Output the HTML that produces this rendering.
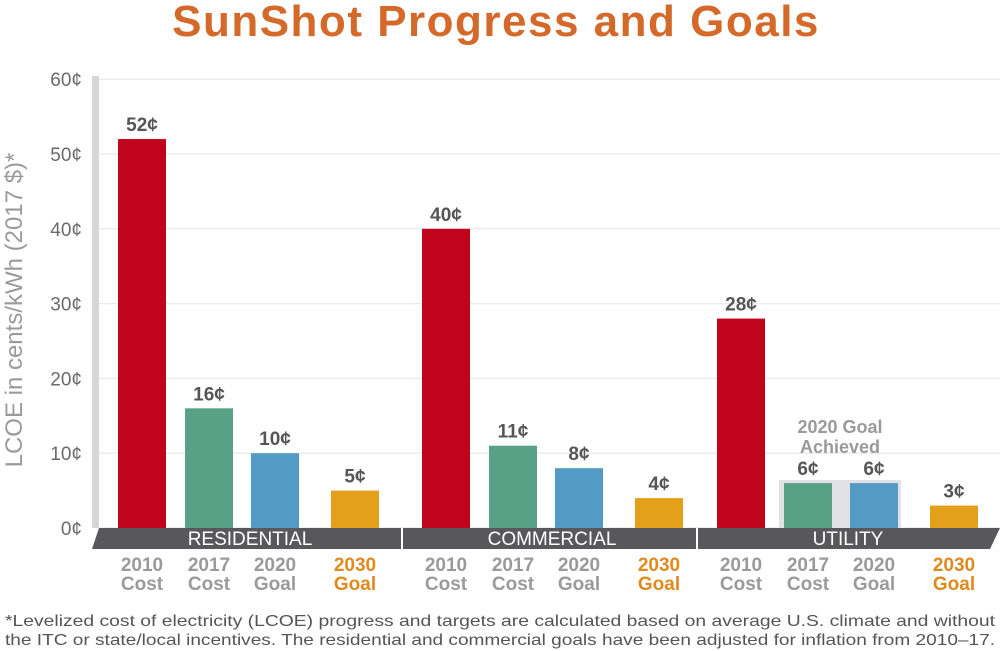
<!DOCTYPE html>
<html><head><meta charset="utf-8"><style>
body{margin:0;background:#fff;}
svg{display:block;font-family:"Liberation Sans",sans-serif;}
</style></head><body>
<svg id="chart" width="1000" height="651" viewBox="0 0 1000 651">
<text x="496" y="36" text-anchor="middle" font-size="44" font-weight="bold" letter-spacing="1.5" fill="#d4692a">SunShot Progress and Goals</text>
<text transform="translate(22,310) rotate(-90)" text-anchor="middle" font-size="24" fill="#9a9a9a">LCOE in cents/kWh (2017 $)*</text>
<rect x="92" y="76" width="7" height="452" fill="#d6d6d8"/>
<g id="grid"></g>
<rect x="779" y="480" width="122" height="48" fill="#e2e2e4"/>
<text x="840" y="433" text-anchor="middle" font-size="18" font-weight="bold" fill="#9a9a9a"><tspan x="840">2020 Goal</tspan><tspan x="840" dy="20">Achieved</tspan></text>
<g id="bars"></g>
<polygon points="99,528 1000,528 990,549 92,549" fill="#58585a"/>
<line x1="402" y1="528" x2="402" y2="549" stroke="#fff" stroke-width="2"/>
<line x1="697" y1="528" x2="697" y2="549" stroke="#fff" stroke-width="2"/>
<g id="sectors"></g>
<g id="cats"></g>
<text x="500" y="626" text-anchor="middle" font-size="16" textLength="990" lengthAdjust="spacingAndGlyphs" fill="#555">*Levelized cost of electricity (LCOE) progress and targets are calculated based on average U.S. climate and without</text>
<text x="500" y="645" text-anchor="middle" font-size="16" textLength="990" lengthAdjust="spacingAndGlyphs" fill="#555">the ITC or state/local incentives. The residential and commercial goals have been adjusted for inflation from 2010–17.</text>
</svg>
<script>
const yTicks=[0,10,20,30,40,50,60];
const sectors=["RESIDENTIAL","COMMERCIAL","UTILITY"];
const series=["2010 Cost","2017 Cost","2020 Goal","2030 Goal"];
const residential=[52,16,10,5];
const commercial=[40,11,8,4];
const utility=[28,6,6,3];
const values=[residential,commercial,utility];
const colors=["#c0041c","#58a187","#539ac4","#e3a01a"];
const NS="http://www.w3.org/2000/svg";
const y0=528,k=7.48;
function y(v){return y0-v*k;}
const sectorX=[118,422,717], offs=[0,67,133,213], bw=48;
function mk(t,a,p,txt){const e=document.createElementNS(NS,t);for(const n in a)e.setAttribute(n,a[n]);if(txt!==undefined)e.textContent=txt;p.appendChild(e);return e;}
const grid=document.getElementById('grid');
yTicks.forEach(t=>{
  const l=mk('line',{x1:99,x2:1000,y1:y(t),y2:y(t),stroke:'#ececec','stroke-width':1.5},grid);
  
  
  const tx=mk('text',{x:82,y:y(t)+7,'text-anchor':'end','font-size':19,fill:'#6a6a6a'},grid,t+'¢');
  
  
});
const bars=document.getElementById('bars'),cats=document.getElementById('cats'),sec=document.getElementById('sectors');
values.forEach((arr,s)=>{
  arr.forEach((v,i)=>{
    const x=sectorX[s]+offs[i];
    const r=mk('rect',{x:x,y:y(v),width:bw,height:v*k,fill:colors[i]},bars);
    
    
    const t=mk('text',{x:x+bw/2,y:y(v)-8,'text-anchor':'middle','font-size':19,'font-weight':'bold',fill:'#555'},bars,v+'¢');
    
    
    const p=series[i].split(' ');
    const c=mk('text',{x:x+bw/2,'text-anchor':'middle','font-size':19,'font-weight':'bold',fill:i==3?'#e08a1e':'#9a9a9a'},cats);
    
    
    mk('tspan',{x:x+bw/2,y:571},c,p[0]);
    mk('tspan',{x:x+bw/2,y:590},c,p[1]);
  });
  const cx=[250,552,848][s];
  const st=mk('text',{x:cx,y:545,'text-anchor':'middle','font-size':19,fill:'#fff'},sec,sectors[s]);
  
  
});
</script>
</body></html>
